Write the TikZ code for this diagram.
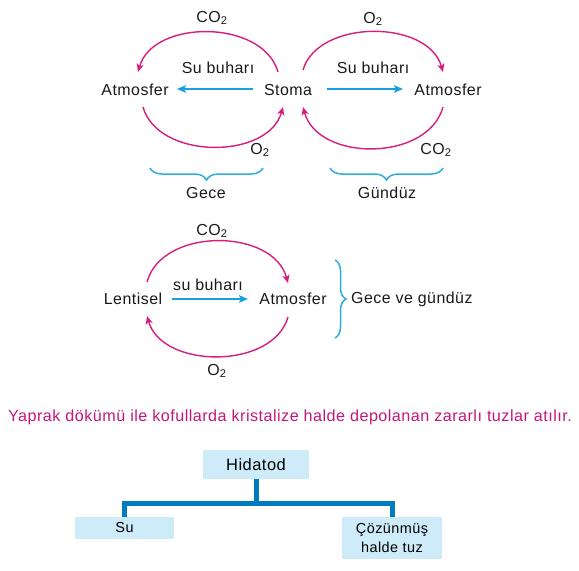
\documentclass[tikz,border=0pt]{standalone}
\usepackage{fontspec}
\setmainfont[LetterSpace=3]{Liberation Sans}
\usepackage{xcolor}
\usetikzlibrary{arrows.meta,positioning,calc,decorations.pathreplacing}
\definecolor{mag}{RGB}{214,30,128}
\definecolor{txtmag}{RGB}{196,22,122}
\definecolor{cyn}{RGB}{22,160,226}
\definecolor{brcol}{RGB}{45,172,222}
\definecolor{boxfill}{RGB}{206,235,249}
\definecolor{barcol}{RGB}{0,124,190}
\newcommand{\cotwo}{CO\textsubscript{2}}
\newcommand{\otwo}{O\textsubscript{2}}

\begin{document}
\begin{tikzpicture}[
  x=1bp, y=-1bp,
  font=\fontsize{16}{19}\selectfont,
  lbl/.style={inner sep=2pt,text=black!90},
  arc/.style={draw=mag,line width=1.4bp,-{Stealth[length=8bp,width=7bp,inset=2bp]}},
  flow/.style={draw=cyn,line width=2bp,-{Stealth[length=9bp,width=7.5bp,inset=2bp]}},
  brc/.style={draw=brcol,line width=1.5bp,decorate,decoration={brace,amplitude=#1}},
  box/.style={fill=boxfill,inner sep=0pt,align=center,font=\fontsize{14.5}{20}\selectfont},
  bar/.style={draw=barcol,line width=5bp}]
  \useasboundingbox (0,0) rectangle (579,571);
  % stoma, gece / gunduz
  \node[lbl] (stoma) at (288,90) {Stoma};
  \node[lbl] (atmL) at (135,90) {Atmosfer};
  \node[lbl] (atmR) at (448,90) {Atmosfer};
  \node[lbl] (suL) at (218,68) {Su buharı};
  \node[lbl] (suR) at (373,68) {Su buharı};
  \node[lbl] (co2a) at (212,18) {\cotwo};
  \node[lbl] (o2a) at (373,19) {\otwo};
  \node[lbl] (o2b) at (260,150) {\otwo};
  \node[lbl] (co2b) at (436,150) {\cotwo};
  \draw[flow] ($(stoma)+(-35,-1)$) -- ($(atmL)+(42,-1)$);
  \draw[flow] ($(stoma)+(39,-1)$) -- ($(atmR)+(-45,-1)$);
  \draw[arc] ($(stoma)+(-10,-18)$) .. controls +(-15,-53) and +(15,-53) .. ($(atmL)+(3,-18)$);
  \draw[arc] ($(atmL)+(8,17)$) .. controls +(15,53) and +(-15,53) .. ($(stoma)+(-5,17)$);
  \draw[arc] ($(stoma)+(15,-20)$) .. controls +(15,-51) and +(-15,-53) .. ($(atmR)+(-5,-18)$);
  \draw[arc] ($(atmR)+(-5,17)$) .. controls +(-15,55) and +(15,55) .. ($(stoma)+(15,17)$);
  \draw[brc=12bp] (263,168) -- (150,168);
  \draw[brc=12bp] (443,168) -- (330,168);
  \node[lbl] (gece) at (206,193) {Gece};
  \node[lbl] (gunduz) at (387,193) {Gündüz};
  % lentisel
  \node[lbl] (lent) at (133,299) {Lentisel};
  \node[lbl] (atmM) at (293,299) {Atmosfer};
  \node[lbl] (suM) at (208,285) {su buharı};
  \node[lbl] (co2c) at (212,231) {\cotwo};
  \node[lbl] (o2c) at (217,371) {\otwo};
  \draw[flow] ($(lent)+(39,0)$) -- ($(atmM)+(-45,0)$);
  \draw[arc] ($(lent)+(14,-17)$) .. controls +(15,-55) and +(-15,-55) .. ($(atmM)+(-5,-16)$);
  \draw[arc] ($(atmM)+(-5,18)$) .. controls +(-15,53) and +(15,53) .. ($(lent)+(14,17)$);
  \draw[brc=11bp] (335,260) -- (335,338);
  \node[lbl,anchor=west] (gvg) at (349,299) {Gece ve gündüz};
  % sentence
  \node[inner sep=0pt,text=txtmag,anchor=base,font=\fontsize{16.2}{19}\selectfont] (yaprak) at (290,421)
    {Yaprak dökümü ile kofullarda kristalize halde depolanan zararlı tuzlar atılır.};
  % hidatod
  \node[box,minimum width=106bp,minimum height=29bp,font=\fontsize{16.5}{19}\selectfont] (hid) at (256,464.5) {Hidatod};
  \node[box,minimum width=99bp,minimum height=22bp] (su) at (124.5,528) {Su};
  \node[box,minimum width=100bp,minimum height=42bp] (coz) at (392,538) {Çözünmüş\\halde tuz};
  \draw[bar] (hid.south) -- ++(0,24);
  \draw[bar] (su.north) |- ($(hid.south)+(0,24)$) -| (coz.north);
\end{tikzpicture}
\end{document}
